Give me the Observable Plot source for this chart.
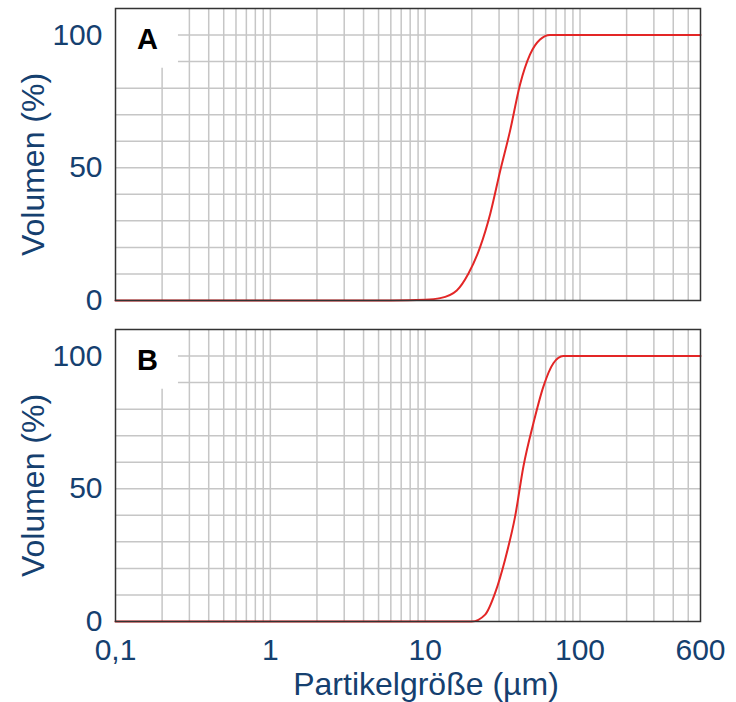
<!DOCTYPE html>
<html><head><meta charset="utf-8">
<script src="https://cdn.jsdelivr.net/npm/d3@7"></script>
<script src="https://cdn.jsdelivr.net/npm/@observablehq/plot@0.6"></script>
<style>body{margin:0;background:#fff}</style>
</head><body><div id="chart"></div>
<script>
const panels = ["A", "B"];
const sizeA = [0.1, 6, 10, 12.5, 16, 19, 22.6, 26.3, 30.5, 35.3, 41, 47.5, 55.2, 64, 600];
const volA  = [0,   0, 0.3, 0.9, 3.8, 10.1, 20, 32.6, 48.8, 63.8, 81.4, 92.6, 98.3, 100, 100];
const sizeB = [0.1, 20, 24.4, 28.3, 32.8, 38.1, 43.1, 50, 58, 67.3, 78, 600];
const volB  = [0,   0, 2.6, 10.8, 23.3, 39.6, 58.4, 74.7, 88.5, 97.3, 100, 100];
const xTicks = [0.1, 1, 10, 100, 600];
const xTickLabels = ["0,1", "1", "10", "100", "600"];
const yTicks = [0, 50, 100];
const xGrid = [0.2,0.3,0.4,0.5,0.6,0.7,0.8,0.9,1,2,3,4,5,6,7,8,9,10,20,30,40,50,60,70,80,90,100,200,300,400,500];
const yGrid = [10,20,30,40,50,60,70,80,90,100];
const labelBox = {x1: 0.1, x2: 0.255, y1: 87.5, y2: 110};
const xLabel = "Partikelgröße (µm)";
const yLabel = "Volumen (%)";

const rows = [
  ...sizeA.map((s, i) => ({panel: "A", size: s, vol: volA[i]})),
  ...sizeB.map((s, i) => ({panel: "B", size: s, vol: volB[i]}))
];
const xTickRows = xTicks.map((v, i) => ({panel: "B", v, label: xTickLabels[i]}));
const blue = "#15406f";
const chart = Plot.plot({
  width: 736, height: 702,
  marginLeft: 115, marginRight: 36, marginTop: 7, marginBottom: 80,
  style: {fontFamily: "'Liberation Sans', Arial, sans-serif", background: "#fff"},
  x: {type: "log", domain: [0.1, 600], axis: null},
  y: {domain: [0, 110]},
  fy: {domain: panels, axis: null, paddingInner: 0.09, paddingOuter: 0},
  marks: [
    Plot.ruleX(xGrid, {stroke: "#c6c6c6", strokeWidth: 1.5}),
    Plot.ruleY(yGrid, {stroke: "#c6c6c6", strokeWidth: 1.5}),
    Plot.rect(panels, {fy: d => d, x1: () => labelBox.x1, x2: () => labelBox.x2, y1: () => labelBox.y1, y2: () => labelBox.y2, fill: "#fff"}),
    Plot.line(rows, {x: "size", y: "vol", fy: "panel", stroke: "#e32626", strokeWidth: 2, curve: "monotone-x"}),
    Plot.frame({stroke: "#333", strokeWidth: 1.5}),
    Plot.axisY({ticks: yTicks, tickSize: 0, tickPadding: 13, fontSize: 30, fill: blue, label: null}),
    Plot.text(xTickRows, {x: "v", fy: "panel", text: "label", frameAnchor: "bottom", dy: 29,
      textAnchor: "middle", lineAnchor: "middle", fontSize: 30, fill: blue}),
    Plot.text(panels, {fy: d => d, text: d => d, frameAnchor: "top-left", dx: 32, dy: 31,
      textAnchor: "middle", lineAnchor: "middle", fontSize: 29, fontWeight: "bold", fill: "#000"}),
    Plot.text(panels, {fy: d => d, text: () => yLabel, frameAnchor: "left", rotate: -90, dx: -82, dy: 10,
      textAnchor: "middle", lineAnchor: "middle", fontSize: 32, fill: blue}),
    Plot.text(["B"], {fy: d => d, text: () => xLabel, frameAnchor: "bottom", dx: 18, dy: 63,
      textAnchor: "middle", lineAnchor: "middle", fontSize: 32, fill: blue})
  ]
});
document.getElementById("chart").appendChild(chart);
</script>
</body></html>
